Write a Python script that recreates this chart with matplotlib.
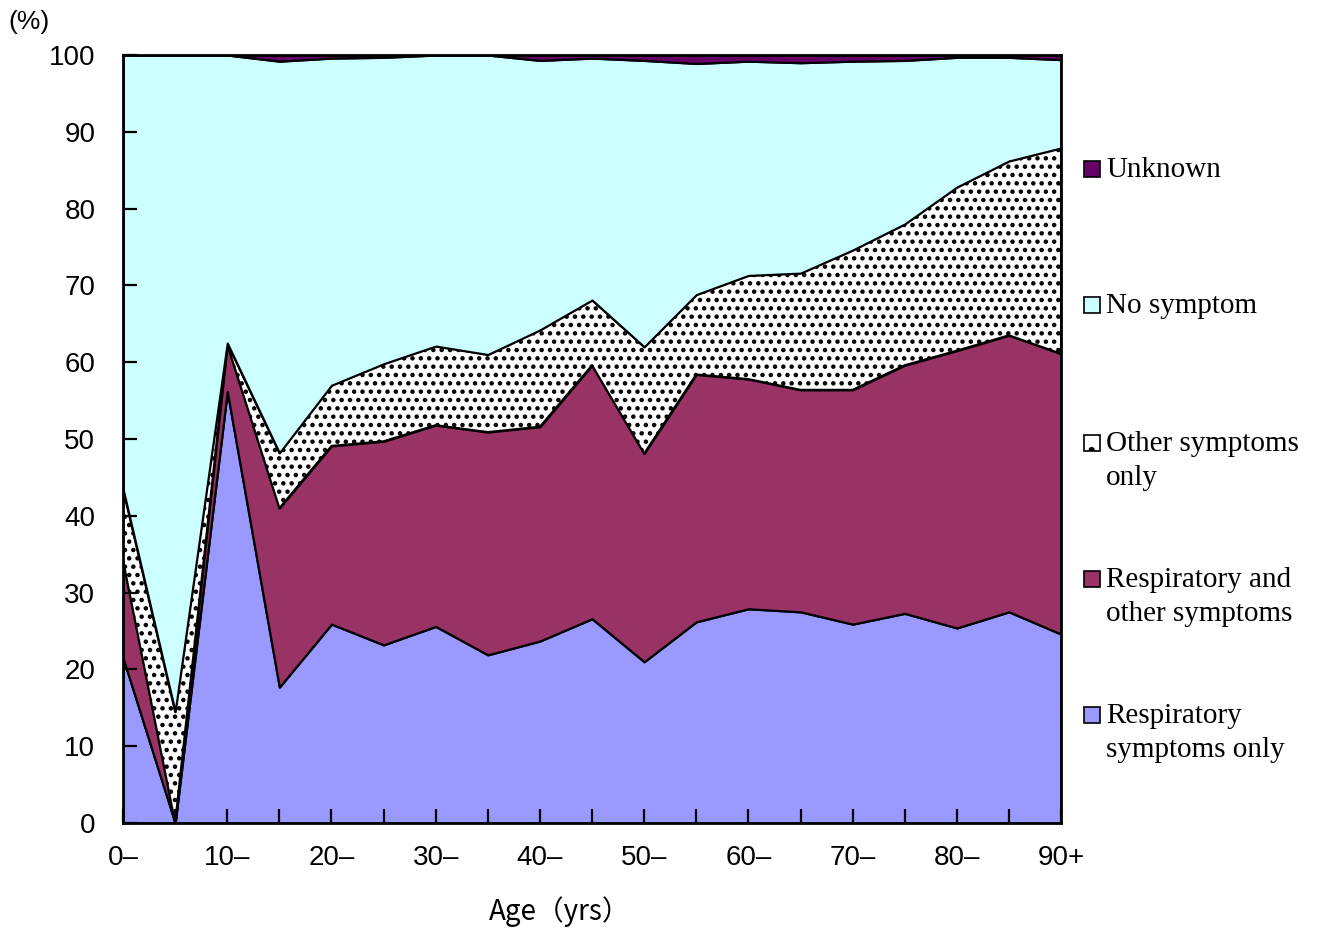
import numpy as np
import matplotlib
matplotlib.use("Agg")
from matplotlib import pyplot as plt
from matplotlib.patches import Rectangle

# age groups (lower bound of each 5-year group)
ages = [0, 5, 10, 15, 20, 25, 30, 35, 40, 45, 50, 55, 60, 65, 70, 75, 80, 85, 90]
tick_pos = [0, 10, 20, 30, 40, 50, 60, 70, 80, 90]
tick_lab = ['0–', '10–', '20–', '30–', '40–', '50–', '60–', '70–', '80–', '90+']

# share of cases (%) per group
resp_only = [21.5, 0, 56.2, 17.7, 25.9, 23.2, 25.6, 21.9, 23.7, 26.6, 21.0, 26.2, 27.9, 27.5, 25.9, 27.3, 25.4, 27.5, 24.6]
resp_other = [12.7, 0, 6.1, 23.3, 23.2, 26.5, 26.2, 29.0, 27.9, 33.0, 27.1, 32.2, 29.9, 28.9, 30.5, 32.3, 36.1, 36.0, 36.5]
other_only = [9.3, 14.5, 0.2, 7.2, 7.9, 10.1, 10.3, 10.1, 12.6, 8.5, 13.9, 10.4, 13.5, 15.2, 18.2, 18.4, 21.3, 22.7, 26.8]
no_symptom = [56.5, 85.5, 37.5, 51.0, 42.6, 39.9, 37.9, 39.0, 35.1, 31.5, 37.3, 30.1, 27.9, 27.4, 24.6, 21.3, 16.9, 13.5, 11.5]
unknown = [0, 0, 0, 0.8, 0.4, 0.3, 0, 0, 0.7, 0.4, 0.7, 1.1, 0.8, 1.0, 0.8, 0.7, 0.3, 0.3, 0.6]

labels = ['Respiratory\nsymptoms only', 'Respiratory and\nother symptoms',
          'Other symptoms\nonly', 'No symptom', 'Unknown']
colors = ['#9999ff', '#993366', '#ffffff', '#ccffff', '#660066']

plt.rcParams['hatch.linewidth'] = 2.0
tick_font = ['Liberation Sans', 'Noto Sans CJK JP', 'DejaVu Sans']

fig = plt.figure(figsize=(13.33, 9.34), dpi=100)
ax = fig.add_axes([0.0923, 0.1188, 0.7037, 0.8223])

polys = ax.stackplot(ages, resp_only, resp_other, other_only, no_symptom, unknown,
                     colors=colors, edgecolor='black', linewidth=1.6)
polys[2].set_hatch('..')

ax.set_xlim(0, 90)
ax.set_ylim(0, 100)
ax.set_xticks(tick_pos)
ax.set_xticklabels(tick_lab)
ax.set_xticks(ages, minor=True)
ax.set_yticks(range(0, 101, 10))
ax.tick_params(axis='both', which='both', direction='in', length=10, width=1.6)
ax.tick_params(axis='x', which='major', pad=16)
ax.tick_params(axis='y', which='major', pad=20)
for lab in ax.get_xticklabels() + ax.get_yticklabels():
    lab.set_family(tick_font)
    lab.set_fontsize(20)
for s in ax.spines.values():
    s.set_linewidth(2)

fig.text(560 / 1333, 1 - 912 / 934, 'Age（yrs）', family=['Noto Sans CJK JP', 'DejaVu Sans'],
         fontsize=20, ha='center', va='center')
fig.text(8 / 1333, 1 - 22 / 934, '(%)', family=tick_font, fontsize=19,
         ha='left', va='center')

# legend drawn by hand (top to bottom)
leg_y = [169, 305, 443, 579, 715]
for i, y in enumerate(leg_y):
    k = 4 - i
    sq = Rectangle((1084 / 1333, 1 - (y + 8) / 934), 16 / 1333, 16 / 934,
                   transform=fig.transFigure, facecolor=colors[k],
                   edgecolor='black', linewidth=1.2)
    if k == 2:
        sq.set_hatch('.')
    fig.add_artist(sq)
    fig.text(1106 / 1333, 1 - (y - 12) / 934, labels[k], family='Liberation Serif',
             fontsize=21, ha='left', va='top', linespacing=1.4)

fig.savefig('out.png', dpi=100)
